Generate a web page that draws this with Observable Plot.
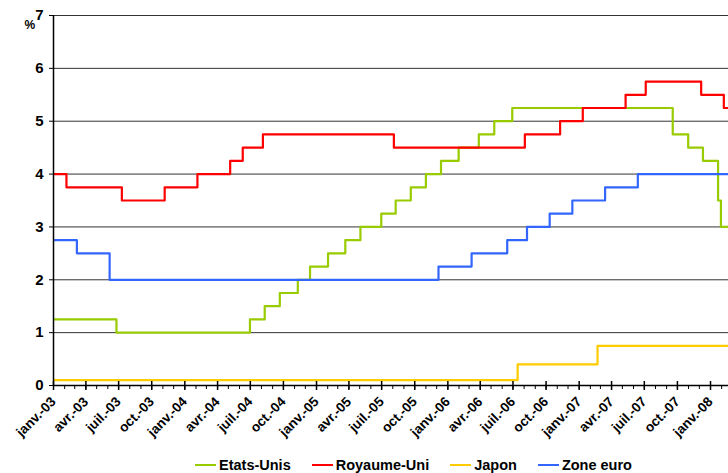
<!DOCTYPE html>
<html>
<head>
<meta charset="utf-8">
<script src="https://cdn.jsdelivr.net/npm/d3@7"></script>
<script src="https://cdn.jsdelivr.net/npm/@observablehq/plot@0.6"></script>
<style>
  body { margin: 0; background: #fff; font-family: Arial, "Liberation Sans", sans-serif; }
  #chart { position: relative; width: 728px; height: 473px; overflow: hidden; }
  #legend { position: absolute; top: 456px; left: 195px; display: flex; gap: 21px;
            font-size: 14.5px; font-weight: bold; color: #000; line-height: 18px; }
  #legend .item { display: flex; align-items: center; gap: 3px; }
  #legend .swatch { width: 21px; height: 2px; }
</style>
</head>
<body>
<div id="chart"></div>
<script>
// Taux directeurs des banques centrales, 2003 - début 2008 (dates de changement et niveaux)
const seriesNames  = ["Etats-Unis", "Royaume-Uni", "Japon", "Zone euro"];
const seriesColors = ["#99cc00", "#ff0000", "#ffcc00", "#3366ff"];

const etatsUnisDates  = ["2003-01-01","2003-06-25","2004-06-30","2004-08-10","2004-09-21","2004-11-10","2004-12-14",
                         "2005-02-02","2005-03-22","2005-05-03","2005-06-30","2005-08-09","2005-09-20","2005-11-01",
                         "2005-12-13","2006-01-31","2006-03-28","2006-05-10","2006-06-29","2007-09-18","2007-10-31",
                         "2007-12-11","2008-01-22","2008-01-30"];
const etatsUnisValues = [1.25,1.00,1.25,1.50,1.75,2.00,2.25,2.50,2.75,3.00,3.25,3.50,3.75,4.00,4.25,4.50,4.75,5.00,5.25,
                         4.75,4.50,4.25,3.50,3.00];

const royaumeUniDates  = ["2003-01-01","2003-02-06","2003-07-10","2003-11-06","2004-02-05","2004-05-06","2004-06-10",
                          "2004-08-05","2005-08-04","2006-08-03","2006-11-09","2007-01-11","2007-05-10","2007-07-05",
                          "2007-12-06","2008-02-07"];
const royaumeUniValues = [4.00,3.75,3.50,3.75,4.00,4.25,4.50,4.75,4.50,4.75,5.00,5.25,5.50,5.75,5.50,5.25];

const japonDates  = ["2003-01-01","2006-07-14","2007-02-21"];
const japonValues = [0.10,0.40,0.75];

const zoneEuroDates  = ["2003-01-01","2003-03-07","2003-06-06","2005-12-06","2006-03-08","2006-06-15","2006-08-09",
                        "2006-10-11","2006-12-13","2007-03-14","2007-06-13"];
const zoneEuroValues = [2.75,2.50,2.00,2.25,2.50,2.75,3.00,3.25,3.50,3.75,4.00];

const yTicks = [0, 1, 2, 3, 4, 5, 6, 7];
const xTickLabels = ["janv.-03","avr.-03","juil.-03","oct.-03","janv.-04","avr.-04","juil.-04","oct.-04",
                     "janv.-05","avr.-05","juil.-05","oct.-05","janv.-06","avr.-06","juil.-06","oct.-06",
                     "janv.-07","avr.-07","juil.-07","oct.-07","janv.-08"];

const start = new Date("2003-01-01");
const end   = new Date("2008-02-20");

// Each rate holds until the next change; the last level runs to the end of the period.
function steps(name, dates, values) {
  const rows = dates.map((d, i) => ({serie: name, date: new Date(d), value: values[i]}));
  rows.push({serie: name, date: end, value: values[values.length - 1]});
  return rows;
}
const rows = [
  ...steps("Etats-Unis", etatsUnisDates, etatsUnisValues),
  ...steps("Royaume-Uni", royaumeUniDates, royaumeUniValues),
  ...steps("Japon", japonDates, japonValues),
  ...steps("Zone euro", zoneEuroDates, zoneEuroValues)
];

const months = d3.utcMonth.range(start, end);
const quarters = d3.utcMonth.every(3).range(start, end);

const chart = Plot.plot({
  width: 728,
  height: 445,
  marginLeft: 53,
  marginRight: 0,
  marginTop: 15,
  marginBottom: 60,
  x: {type: "utc", domain: [start, end]},
  y: {domain: [0, 7]},
  color: {domain: seriesNames, range: seriesColors},
  style: {fontFamily: "Arial, 'Liberation Sans', sans-serif", color: "#000", background: "#fff", overflow: "visible"},
  marks: [
    Plot.ruleY(yTicks.filter(v => v > 0), {stroke: "#333", strokeWidth: 1}),
    Plot.line(rows, {x: "date", y: "value", z: "serie", stroke: "serie", curve: "step-after", strokeWidth: 2.2, clip: true}),
    Plot.ruleY([0], {stroke: "#000", strokeWidth: 1.5}),
    Plot.ruleX([start], {stroke: "#000", strokeWidth: 1.5}),
    // monthly minor ticks
    Plot.axisX({ticks: months, tickSize: 4, tickFormat: () => "", stroke: "#000"}),
    // quarterly major ticks crossing the axis
    Plot.axisX({ticks: quarters, tickSize: 9, dy: -4, tickFormat: () => "", stroke: "#000", strokeWidth: 1.5}),
    // quarterly labels
    Plot.axisX({ticks: quarters, tickSize: 0, tickPadding: 14, tickRotate: -45,
                tickFormat: (d, i) => xTickLabels[i], fontSize: 13.5, fontWeight: "bold", label: null}),
    Plot.axisY({ticks: yTicks, tickSize: 4, tickPadding: 6, tickFormat: d => String(d),
                fontSize: 15, fontWeight: "bold", label: null, stroke: "#000"}),
    Plot.text(["%"], {frameAnchor: "top-left", dx: -29, dy: 5, fontSize: 12, fontWeight: "bold"})
  ]
});

const root = document.getElementById("chart");
root.appendChild(chart);

const legend = document.createElement("div");
legend.id = "legend";
seriesNames.forEach((name, i) => {
  const item = document.createElement("div");
  item.className = "item";
  const sw = document.createElement("span");
  sw.className = "swatch";
  sw.style.background = seriesColors[i];
  const label = document.createElement("span");
  label.textContent = name;
  item.append(sw, label);
  legend.appendChild(item);
});
root.appendChild(legend);
</script>
</body>
</html>
